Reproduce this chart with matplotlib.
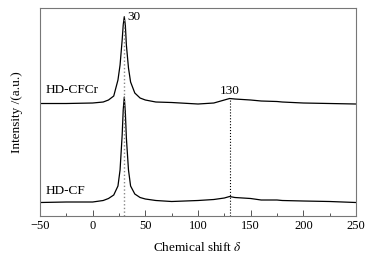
import matplotlib
matplotlib.use("Agg")
import matplotlib.pyplot as plt
from matplotlib.ticker import MultipleLocator, FuncFormatter

plt.rcParams['font.family'] = ['Liberation Serif', 'DejaVu Serif']
plt.rcParams['mathtext.fontset'] = 'stix'

# Chemical shift positions (ppm)
shift = [-50, -25, 0, 10, 15, 20, 24, 26, 28, 29, 30, 31, 32, 34, 36, 40, 45, 50,
         60, 75, 100, 115, 125, 130, 135, 150, 160, 175, 180, 200, 225, 250]

# HD-CFCr intensity (a.u.)
cfcr = [112.5, 112.5, 113, 114, 116, 120, 136, 151, 176, 191, 199.3, 191, 171, 148,
        134, 123, 118, 116, 114, 113.5, 112, 113, 116, 117.5, 117, 116, 115, 114.5,
        114, 113, 112.5, 112]

# HD-CF intensity (a.u.)
cf = [13.5, 14, 14, 15.5, 17.5, 21, 30, 46, 81, 106, 119, 104, 78, 46, 30, 22,
      18.5, 17, 15.5, 14.5, 15.5, 16.5, 18, 19.5, 18.5, 17.5, 16, 16, 15.5, 15,
      14.5, 13.5]

peaks = [30, 130]
peak_labels = ["30", "130"]

fig = plt.figure(figsize=(3.8, 2.61), dpi=100)
ax = fig.add_axes([0.1053, 0.1724, 0.8315, 0.7969])

ax.plot(shift, cfcr, color='black', lw=0.9)
ax.plot(shift, cf, color='black', lw=0.9)

# dotted reference lines
ax.plot([peaks[0], peaks[0]], [0, cfcr[shift.index(30)]], color='#888888', ls=':', lw=1.0)
ax.plot([peaks[1], peaks[1]], [0, cfcr[shift.index(130)]], color='black', ls=':', lw=0.8)

ax.text(32.5, cfcr[shift.index(30)], peak_labels[0], fontsize=9.5, va='center', ha='left')
ax.text(130, 125.5, peak_labels[1], fontsize=9.5, va='center', ha='center')
ax.text(-45, 126, "HD-CFCr", fontsize=9.5, va='center', ha='left')
ax.text(-45, 25, "HD-CF", fontsize=9.5, va='center', ha='left')

ax.set_xlim(-50, 250)
ax.set_ylim(0, 208)
ax.xaxis.set_major_locator(MultipleLocator(50))
ax.xaxis.set_minor_locator(MultipleLocator(25))
ax.xaxis.set_major_formatter(FuncFormatter(lambda v, p: f"{v:.0f}".replace('-', '\u2212')))
ax.tick_params(axis='x', which='major', direction='in', length=4, width=0.7,
               labelsize=9, pad=3, color='#555555')
ax.tick_params(axis='x', which='minor', direction='in', length=2, width=0.7, color='#555555')
ax.set_yticks([])
for s in ax.spines.values():
    s.set_color('#777777')
    s.set_linewidth(0.8)

ax.set_xlabel("Chemical shift $\\delta$", fontsize=9.5, labelpad=6)
ax.set_ylabel("Intensity /(a.u.)", fontsize=9.5, labelpad=12)

fig.savefig("out.png", dpi=100)
